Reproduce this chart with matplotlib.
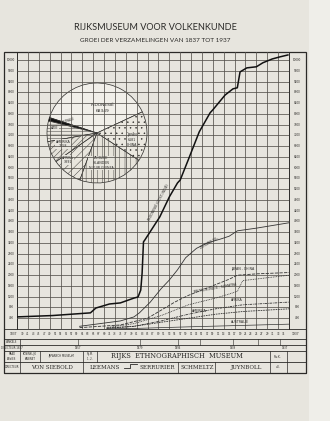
import numpy as np
import matplotlib.pyplot as plt
from matplotlib.patches import Rectangle, Wedge

# ---- data ----
indonesie_years = [1837, 1850, 1864, 1866, 1871, 1875, 1880, 1881.5, 1882.5, 1883, 1883.5, 1884,
                   1889.5, 1893, 1896, 1897, 1900, 1904, 1908, 1909, 1913.5, 1916.4, 1918,
                   1919, 1921.5, 1925, 1927.4, 1930.8, 1933.7, 1936.6]
indonesie_vals = [450, 500, 600, 780, 930, 970, 1150, 1190, 1450, 2080, 3240, 3310,
                  4170, 4910, 5430, 5540, 6300, 7330, 8040, 8150, 8700, 8930, 8970,
                  9560, 9710, 9750, 9900, 10040, 10120, 10190]

zuidzee_years = [1860, 1875, 1880, 1882, 1886, 1890, 1893, 1896, 1899, 1903, 1907, 1912, 1915, 1918, 1925, 1937]
zuidzee_vals = [100, 300, 450, 600, 1000, 1500, 1820, 2200, 2650, 3000, 3200, 3350, 3450, 3650, 3750, 3950]

japan_years = [1860, 1875, 1885, 1890, 1895, 1900, 1905, 1910, 1915, 1918, 1925, 1937]
japan_vals = [50, 150, 400, 700, 1000, 1250, 1450, 1650, 1850, 2000, 2050, 2100]

azie_years = [1870, 1880, 1890, 1900, 1910, 1915, 1918, 1920, 1937]
azie_vals = [50, 200, 500, 900, 1150, 1300, 1400, 1800, 2000]

afrika_years = [1870, 1880, 1890, 1900, 1910, 1920, 1937]
afrika_vals = [30, 100, 300, 550, 750, 900, 1000]

amerika_years = [1870, 1880, 1900, 1910, 1920, 1937]
amerika_vals = [30, 100, 400, 550, 650, 750]

australie_years = [1870, 1880, 1900, 1937]
australie_vals = [5, 20, 80, 180]

pie_labels = ['INDONESIË\n68349', 'AUSTRALIË', 'AZIË', 'AMERIKA\n7658', 'AFRIKA\n3891',
              'ZUIDZEE\nEILANDEN\nNIEUW GUINEA', 'JAPAN\n6181\nCHINA']
pie_degrees = [137, 4, 24, 25, 35, 77, 58]

y_ticks = list(range(400, 10001, 400))
directors = ['VON SIEBOLD', 'LEEMANS', 'SERRURIER', 'SCHMELTZ', 'JUYNBOLL']

paper = '#e7e5de'
ink = '#2b2a28'
plt.rcParams['hatch.color'] = '#9a968d'
plt.rcParams['hatch.linewidth'] = 0.3

fig = plt.figure(figsize=(3.3, 4.21), dpi=100, facecolor=paper)

# pixel space for frame, titles and tables
bg = fig.add_axes([0, 0, 1, 1])
bg.set_xlim(0, 330)
bg.set_ylim(421, 0)
bg.axis('off')
bg.add_patch(Rectangle((309, 0), 21, 421, fc='#efeee9', ec='none', zorder=0))

bg.text(155, 27, 'RIJKSMUSEUM VOOR VOLKENKUNDE', ha='center', va='center',
        fontsize=6.6, family='Lato', color=ink)
bg.text(155, 40, 'GROEI DER VERZAMELINGEN VAN 1837 TOT 1937', ha='center', va='center',
        fontsize=4.6, family='Lato', color=ink)

bg.add_patch(Rectangle((4, 52), 302, 321, fill=False, lw=0.9, ec=ink))
for x in [17, 289]:
    bg.plot([x, x], [52, 329], color=ink, lw=0.7)

# tables below the chart
for y in [329, 339, 345, 351, 362, 373]:
    bg.plot([4, 306], [y, y], color=ink, lw=0.6)
bg.plot([20, 20], [339, 373], color=ink, lw=0.5)
bg.plot([40, 40], [351, 362], color=ink, lw=0.5)
bg.plot([83, 83], [351, 373], color=ink, lw=0.5)
bg.plot([97, 97], [351, 362], color=ink, lw=0.5)
bg.plot([270, 270], [351, 373], color=ink, lw=0.5)
bg.plot([287, 287], [351, 373], color=ink, lw=0.5)
bg.plot([178, 178], [362, 373], color=ink, lw=0.5)
bg.plot([215, 215], [362, 373], color=ink, lw=0.5)
bg.plot([124, 130, 130, 137], [367.5, 367.5, 364, 364], color=ink, lw=0.6)
for x in [78, 140, 178, 200, 233, 258, 280]:
    bg.plot([x, x], [339, 345], color=ink, lw=0.4)

bg.text(12, 342, 'WINKELS', fontsize=1.8, ha='center', va='center', color=ink)
bg.text(12, 348, 'DIRECTEUR 1837', fontsize=1.8, ha='center', va='center', color=ink)
for x, s in [(78, '1857'), (140, '1879'), (178, '1896'), (233, '1909'), (285, '1937')]:
    bg.text(x, 348, s, fontsize=1.8, ha='center', va='center', color=ink)
bg.text(12, 356.5, 'RAAD\nADVIES', fontsize=1.8, ha='center', va='center', color=ink)
bg.text(30, 356.5, 'KONINKLIJK\nKABINET', fontsize=1.8, ha='center', va='center', color=ink)
bg.text(61, 356.5, 'JAPANSCH MUSEUM', fontsize=1.9, ha='center', va='center', color=ink)
bg.text(90, 356.5, 'R.J.M.\n1. 2.', fontsize=1.8, ha='center', va='center', color=ink)
bg.text(177, 356.5, 'RIJKS  ETHNOGRAPHISCH  MUSEUM', fontsize=4.8, ha='center', va='center',
        family='DejaVu Serif', color=ink)
bg.text(278, 356.5, 'R.v.K.', fontsize=2, ha='center', va='center', color=ink)
bg.text(12, 367.5, 'DIRECTEUR', fontsize=1.8, ha='center', va='center', color=ink)
for x, s in zip([52, 105, 157, 197, 246], directors):
    bg.text(x, 367.5, s, fontsize=4, ha='center', va='center', family='DejaVu Serif', color=ink)
bg.text(278, 367.5, 'v.E.', fontsize=2, ha='center', va='center', color=ink)

# axis labels columns
for v in y_ticks:
    yp = 329 - v / 37.2
    bg.text(11, yp, str(v), fontsize=2, ha='center', va='center', color=ink)
    bg.text(297, yp, str(v), fontsize=2, ha='center', va='center', color=ink)

# ---- the growth chart ----
ax = fig.add_axes([17 / 330, 1 - 329 / 421, 272 / 330, 277 / 421])
ax.set_facecolor('none')
ax.set_xlim(1837, 1937)
ax.set_ylim(0, 10300)
for v in y_ticks:
    ax.axhline(v, color='#55524d', lw=0.55, zorder=1)
for yr in range(1841, 1937, 4):
    ax.axvline(yr, color='#55524d', lw=0.55, zorder=1)
ax.set_xticks([])
ax.set_yticks([])
for s in ax.spines.values():
    s.set_visible(False)

ax.plot(indonesie_years, indonesie_vals, color='#111111', lw=1.1, zorder=4)
ax.plot(zuidzee_years, zuidzee_vals, color='#333333', lw=0.6, zorder=3)
ax.plot(japan_years, japan_vals, color='#333333', lw=0.6, ls=(0, (4, 1.5)), zorder=3)
ax.plot(azie_years, azie_vals, color='#333333', lw=0.6, ls=(0, (1, 1)), zorder=3)
ax.plot(afrika_years, afrika_vals, color='#333333', lw=0.6, ls=(0, (3, 1, 1, 1)), zorder=3)
ax.plot(amerika_years, amerika_vals, color='#333333', lw=0.6, ls=(0, (2, 1)), zorder=3)
ax.plot(australie_years, australie_vals, color='#333333', lw=0.5, zorder=3)

tkw = dict(fontsize=2.3, color=ink, zorder=5)
ax.text(1889, 4700, 'INDONESIË (OOST-INDIË)', rotation=62, ha='center', va='center', **tkw)
ax.text(1908, 3200, 'ZUIDZEE EIL.', rotation=30, ha='center', va='center', **tkw)
ax.text(1920, 2150, 'JAPAN - CHINA', ha='center', va='bottom', **tkw)
ax.text(1910, 1300, 'BRITSCH-INDIË - SUMATRA', rotation=10, ha='center', va='bottom', **tkw)
ax.text(1918, 1000, 'AFRIKA', ha='center', va='bottom', **tkw)
ax.text(1904, 600, 'AMERIKA', ha='center', va='bottom', **tkw)
ax.text(1919, 200, 'AUSTRALIË', ha='center', va='bottom', **tkw)

# year labels row
for yr in range(1839, 1937, 2):
    xp = 17 + (yr - 1837) * 2.72
    bg.text(xp, 334, str(yr)[2:], fontsize=2, ha='center', va='center', color=ink)
bg.text(13, 334, '1837', fontsize=2.2, ha='center', va='center', color=ink)
bg.text(295, 334, '1937', fontsize=2.2, ha='center', va='center', color=ink)

# ---- pie inset ----
cx, cy, r = 97, 133, 50
hatches = [None, None, '-----', '//////', '////', '|||', '...']
fills = ['#f1efe9', '#111111', '#e8e5dd', '#e4e1d8', '#e8e5dd', '#e6e3da', '#ebe8e0']
start = 25
for d, h, fc in zip(pie_degrees, hatches, fills):
    w = Wedge((cx, cy), r, -(start + d), -start, fc=fc, ec=ink, lw=0.5,
              hatch=h, zorder=6)
    bg.add_patch(w)
    start += d

label_pos = [(103, 108), (68, 121), (55, 128), (63, 144), (68, 160), (101, 163), (132, 140)]
for (lx, ly), lab in zip(label_pos, pie_labels):
    if lab == 'AUSTRALIË':
        bg.text(lx, ly, lab, fontsize=2, ha='center', va='center', rotation=17, color=ink, zorder=7)
    elif lab.startswith('INDONESIË'):
        bg.text(lx, ly, lab, fontsize=3.2, ha='center', va='center', color=ink, zorder=7,
                linespacing=1.8)
    else:
        bg.text(lx, ly, lab, fontsize=2.3, ha='center', va='center', color=ink, zorder=7,
                linespacing=1.3, bbox=dict(fc=paper, ec='none', pad=0.2))

fig.savefig('out.png', dpi=100, facecolor=paper)
